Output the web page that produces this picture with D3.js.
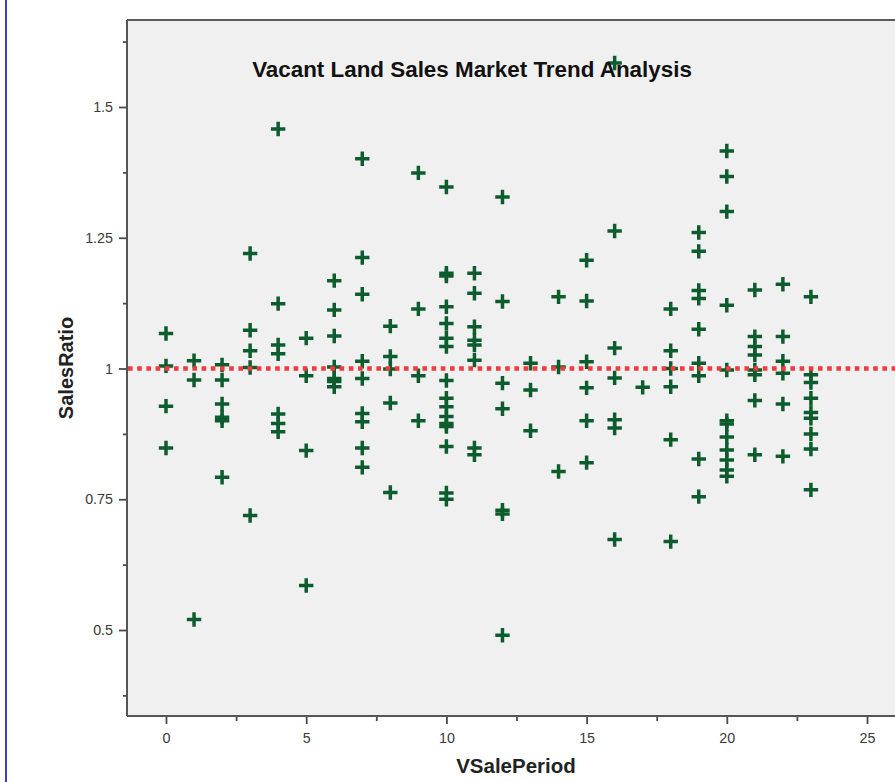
<!DOCTYPE html>
<html>
<head>
<meta charset="utf-8">
<script src="https://cdn.jsdelivr.net/npm/d3@7"></script>
<style>
  html, body { margin: 0; padding: 0; background: #ffffff; }
  svg { display: block; font-family: "Liberation Sans", Arial, sans-serif; }
</style>
</head>
<body>
<svg id="chart" width="895" height="782"></svg>
<script>
// Sale period (x) and the sales ratios recorded in each period (y)
const salePeriods = [0, 1, 2, 3, 4, 5, 6, 7, 8, 9, 10, 11, 12, 13, 14, 15, 16, 17, 18, 19, 20, 21, 22, 23];
const salesRatios = [
  [1.067, 1.005, 0.928, 0.848],
  [1.015, 0.978, 0.52],
  [1.007, 0.978, 0.932, 0.907, 0.9, 0.792],
  [1.22, 1.073, 1.034, 1.002, 0.719],
  [1.458, 1.124, 1.045, 1.028, 0.913, 0.895, 0.879],
  [1.058, 0.986, 0.843, 0.585],
  [1.168, 1.112, 1.062, 1.003, 0.981, 0.975, 0.965],
  [1.401, 1.212, 1.142, 1.014, 0.981, 0.914, 0.898, 0.848, 0.811],
  [1.081, 1.023, 0.999, 0.934, 0.763],
  [1.374, 1.114, 0.986, 0.9],
  [1.347, 1.182, 1.177, 1.118, 1.086, 1.058, 1.042, 0.977, 0.943, 0.927, 0.908, 0.895, 0.889, 0.851, 0.762, 0.75],
  [1.182, 1.144, 1.08, 1.054, 1.045, 1.016, 0.848, 0.835],
  [1.328, 1.128, 0.972, 0.923, 0.729, 0.722, 0.49],
  [1.01, 0.959, 0.881],
  [1.137, 1.003, 0.803],
  [1.207, 1.129, 1.013, 0.963, 0.9, 0.82],
  [1.584, 1.263, 1.039, 0.982, 0.902, 0.886, 0.673],
  [0.964],
  [1.114, 1.034, 1.0, 0.965, 0.864, 0.669],
  [1.26, 1.224, 1.149, 1.134, 1.075, 1.01, 0.986, 0.827, 0.755],
  [1.416, 1.367, 1.3, 1.121, 0.997, 0.9, 0.894, 0.869, 0.844, 0.825, 0.806, 0.794],
  [1.15, 1.061, 1.042, 1.026, 0.997, 0.988, 0.939, 0.835],
  [1.161, 1.061, 1.014, 0.991, 0.932, 0.832],
  [1.137, 0.988, 0.973, 0.943, 0.916, 0.905, 0.875, 0.846, 0.768]
];
const referenceRatio = 1;

// Tick positions and labels
const xMajorTicks = [0, 5, 10, 15, 20, 25];
const xMinorTicks = [2.5, 7.5, 12.5, 17.5, 22.5];
const yMajorTicks = [0.5, 0.75, 1, 1.25, 1.5];
const yTickLabels = ["0.5", "0.75", "1", "1.25", "1.5"];
const yMinorTicks = [0.375, 0.625, 0.875, 1.125, 1.375, 1.625];

const titleText = "Vacant Land Sales Market Trend Analysis";
const xTitle = "VSalePeriod";
const yTitle = "SalesRatio";

// Flatten into point records
const points = [];
salePeriods.forEach((p, i) => salesRatios[i].forEach(r => points.push({ period: p, ratio: r })));

const svg = d3.select("#chart");
const W = 895, H = 782;
const plot = { left: 127, top: 20, right: 905, bottom: 716 };

const x = d3.scaleLinear().domain([0, 25]).range([166, 867]);
const y = d3.scaleLinear().domain([0.5, 1.5]).range([630, 107]);

// Blue rule on the far left of the page
svg.append("line")
  .attr("x1", 6).attr("x2", 6).attr("y1", 0).attr("y2", H)
  .attr("stroke", "#3b3bd6").attr("stroke-width", 2);

// Plot background
svg.append("rect")
  .attr("x", plot.left).attr("y", plot.top)
  .attr("width", plot.right - plot.left).attr("height", plot.bottom - plot.top)
  .attr("fill", "#f0f0f0");

// Frame: top edge
svg.append("line")
  .attr("x1", plot.left).attr("x2", plot.right)
  .attr("y1", plot.top).attr("y2", plot.top)
  .attr("stroke", "#5a5a5a").attr("stroke-width", 2);

// Axes
const axisColor = "#4a4a4a";
const labelColor = "#3a3a3a";

function styleAxis(g) {
  g.select(".domain").remove();
  g.selectAll(".tick line").attr("stroke", axisColor).attr("stroke-width", 1.8);
  g.selectAll(".tick text")
    .attr("fill", labelColor)
    .style("font-family", "'Liberation Sans', Arial, sans-serif")
    .style("font-size", "14.3px");
}

// x axis
const xAxisG = svg.append("g").attr("transform", `translate(0,${plot.bottom})`);
xAxisG.append("g")
  .call(d3.axisBottom(x).tickValues(xMinorTicks).tickSize(5).tickFormat(""))
  .call(styleAxis);
xAxisG.append("g")
  .call(d3.axisBottom(x).tickValues(xMajorTicks).tickSize(8).tickPadding(9).tickFormat(d3.format("d")))
  .call(styleAxis);
xAxisG.append("line")
  .attr("x1", plot.left).attr("x2", plot.right)
  .attr("stroke", "#555555").attr("stroke-width", 2);

// y axis
const yAxisG = svg.append("g").attr("transform", `translate(${plot.left},0)`);
yAxisG.append("g")
  .call(d3.axisLeft(y).tickValues(yMinorTicks).tickSize(4).tickFormat(""))
  .call(styleAxis);
yAxisG.append("g")
  .call(d3.axisLeft(y).tickValues(yMajorTicks).tickSize(8).tickPadding(6)
    .tickFormat((d, i) => yTickLabels[i]))
  .call(styleAxis);
yAxisG.append("line")
  .attr("y1", plot.top).attr("y2", plot.bottom)
  .attr("stroke", "#555555").attr("stroke-width", 2);

// Plus markers
const plusPath = "M-7.2,0H7.2M0,-7.2V7.2";
svg.append("g")
  .selectAll("path")
  .data(points)
  .join("path")
  .attr("d", plusPath)
  .attr("transform", d => `translate(${x(d.period)},${y(d.ratio)})`)
  .attr("stroke", "#0d5c2e")
  .attr("stroke-width", 3.5)
  .attr("fill", "none");

// Dotted reference line at ratio 1
svg.append("line")
  .attr("x1", plot.left + 1).attr("x2", W)
  .attr("y1", y(referenceRatio)).attr("y2", y(referenceRatio))
  .attr("stroke", "#f23a3a")
  .attr("stroke-width", 4.6)
  .attr("stroke-dasharray", "4.6,4.6");

// Title
svg.append("text")
  .attr("x", 472).attr("y", 77)
  .attr("text-anchor", "middle")
  .attr("fill", "#111111")
  .style("font-size", "22.4px")
  .style("font-weight", "bold")
  .text(titleText);

// Axis titles
svg.append("text")
  .attr("x", 516).attr("y", 773)
  .attr("text-anchor", "middle")
  .attr("fill", "#222222")
  .style("font-size", "20.5px")
  .style("font-weight", "bold")
  .text(xTitle);

svg.append("text")
  .attr("transform", "translate(73,368) rotate(-90)")
  .attr("text-anchor", "middle")
  .attr("fill", "#222222")
  .style("font-size", "20px")
  .style("font-weight", "bold")
  .text(yTitle);
</script>
</body>
</html>
